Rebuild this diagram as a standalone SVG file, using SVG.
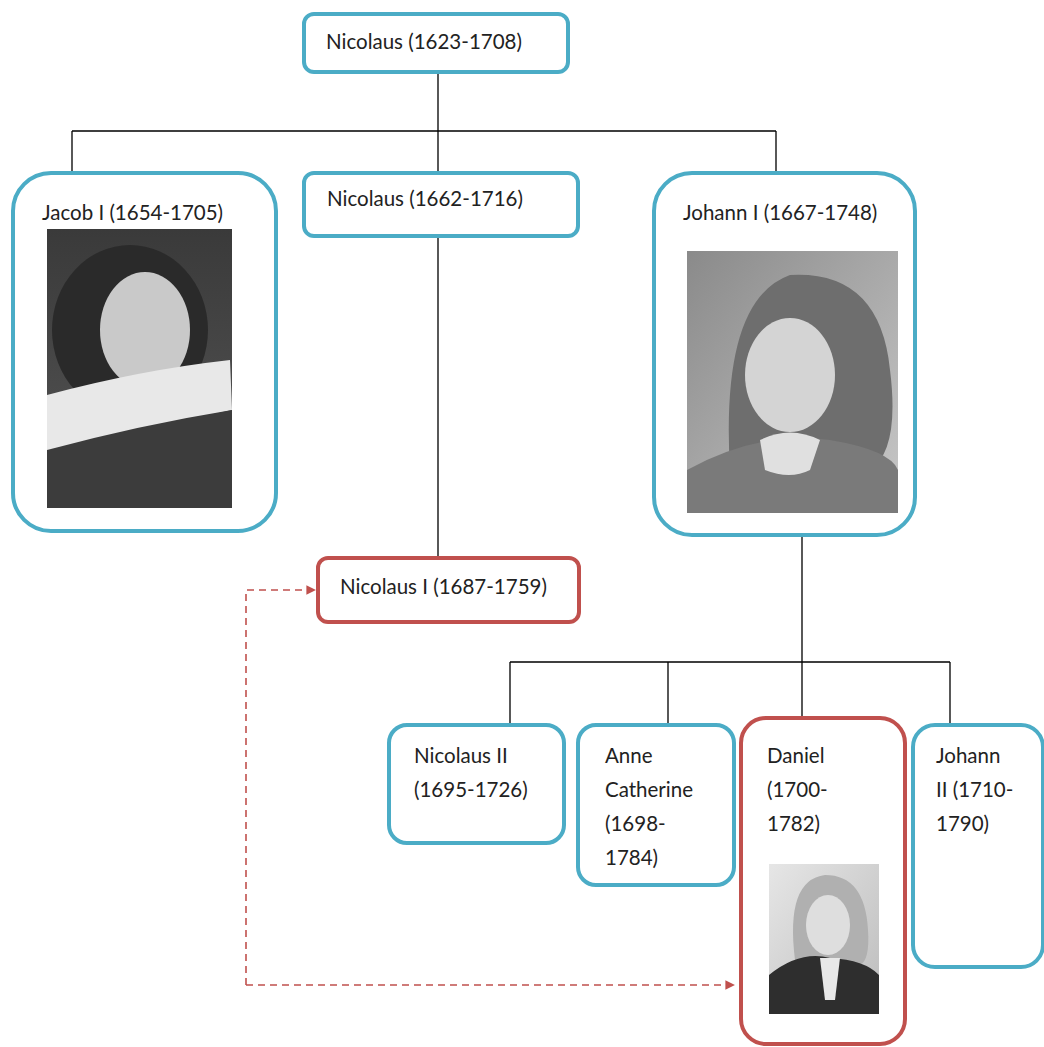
<svg xmlns="http://www.w3.org/2000/svg" width="1044" height="1047" viewBox="0 0 1044 1047">
<style>
.t{font-family:Lato,"Liberation Sans",sans-serif;font-size:20.5px;fill:#222}
.b{fill:#fff;stroke:#4BACC6;stroke-width:4}
.r{fill:#fff;stroke:#C0504D;stroke-width:4}
.c{fill:none;stroke:#000;stroke-width:1.3}
.d{fill:none;stroke:#C0504D;stroke-width:1.6;stroke-dasharray:7 5}
</style>
<defs>
<marker id="ah" viewBox="0 0 10 10" refX="9" refY="5" markerWidth="6" markerHeight="6" orient="auto" markerUnits="strokeWidth">
<path d="M0,0 L10,5 L0,10 z" fill="#C0504D"/>
</marker>
<linearGradient id="g1" x1="0" y1="0" x2="0" y2="1"><stop offset="0" stop-color="#3a3a3a"/><stop offset="1" stop-color="#555"/></linearGradient>
<linearGradient id="g2" x1="0" y1="0" x2="1" y2="1"><stop offset="0" stop-color="#8a8a8a"/><stop offset="1" stop-color="#c8c8c8"/></linearGradient>
<linearGradient id="g3" x1="0" y1="0" x2="1" y2="1"><stop offset="0" stop-color="#e6e6e6"/><stop offset="1" stop-color="#bcbcbc"/></linearGradient>
</defs>
<g id="connectors">
<path class="c" d="M438,72 V172 M72,131 H776 M72,131 V173 M776,131 V173 M438,236 V558"/>
<path class="c" d="M802,535 V718 M510,662 H950 M510,662 V725 M668,662 V725 M950,662 V725"/>
<path class="d" d="M246,985 V590 H315" marker-end="url(#ah)"/>
<path class="d" d="M246,985 H734" marker-end="url(#ah)"/>
</g>
<g id="n-nicolaus-1623">
<rect class="b" x="304" y="14" width="264" height="58" rx="10"/>
<text class="t" x="326" y="49">Nicolaus (1623-1708)</text>
</g>
<g id="n-jacob">
<rect class="b" x="13" y="173" width="263" height="358" rx="38"/>
<text class="t" x="42" y="220">Jacob I (1654-1705)</text>
<g id="p-jacob">
<rect x="47" y="229" width="185" height="279" fill="url(#g1)"/>
<ellipse cx="130" cy="330" rx="78" ry="85" fill="#2a2a2a"/>
<ellipse cx="145" cy="330" rx="45" ry="58" fill="#c9c9c9"/>
<path d="M47,395 Q140,370 230,360 L232,410 Q140,430 60,450 L47,450 z" fill="#e8e8e8"/>
<path d="M47,450 Q140,425 232,410 L232,508 L47,508 z" fill="#3c3c3c"/>
</g>
</g>
<g id="n-nicolaus-1662">
<rect class="b" x="304" y="173" width="274" height="63" rx="10"/>
<text class="t" x="327" y="206">Nicolaus (1662-1716)</text>
</g>
<g id="n-johann-i">
<rect class="b" x="654" y="173" width="261" height="362" rx="38"/>
<text class="t" x="683" y="220">Johann I (1667-1748)</text>
<g id="p-johann">
<rect x="687" y="251" width="211" height="262" fill="url(#g2)"/>
<path d="M730,470 Q720,300 790,275 Q880,270 890,370 Q900,450 870,470 z" fill="#6e6e6e"/>
<ellipse cx="790" cy="375" rx="45" ry="57" fill="#d4d4d4"/>
<path d="M687,470 Q760,430 830,440 Q890,450 898,470 L898,513 L687,513 z" fill="#7a7a7a"/>
<path d="M760,440 Q790,425 820,440 L810,470 Q790,480 765,470 z" fill="#e0e0e0"/>
</g>
</g>
<g id="n-nicolaus-i">
<rect class="r" x="318" y="558" width="261" height="64" rx="10"/>
<text class="t" x="340" y="594">Nicolaus I (1687-1759)</text>
</g>
<g id="n-nicolaus-ii">
<rect class="b" x="389" y="725" width="175" height="118" rx="18"/>
<text class="t" x="414" y="763">Nicolaus II</text>
<text class="t" x="414" y="797">(1695-1726)</text>
</g>
<g id="n-anne">
<rect class="b" x="578" y="725" width="156" height="160" rx="18"/>
<text class="t" x="605" y="763">Anne</text>
<text class="t" x="605" y="797">Catherine</text>
<text class="t" x="605" y="831">(1698-</text>
<text class="t" x="605" y="865">1784)</text>
</g>
<g id="n-daniel">
<rect class="r" x="741" y="718" width="164" height="326" rx="25"/>
<text class="t" x="767" y="763">Daniel</text>
<text class="t" x="767" y="797">(1700-</text>
<text class="t" x="767" y="831">1782)</text>
<g id="p-daniel">
<rect x="769" y="864" width="110" height="150" fill="url(#g3)"/>
<path d="M795,960 Q785,880 825,875 Q865,875 868,930 Q870,960 860,965 z" fill="#b0b0b0"/>
<ellipse cx="828" cy="925" rx="22" ry="30" fill="#dedede"/>
<path d="M769,975 Q800,950 830,958 Q865,960 879,975 L879,1014 L769,1014 z" fill="#2e2e2e"/>
<path d="M820,958 L840,958 L835,1000 L825,1000 z" fill="#e8e8e8"/>
</g>
</g>
<g id="n-johann-ii">
<rect class="b" x="913" y="725" width="130" height="242" rx="22"/>
<text class="t" x="936" y="763">Johann</text>
<text class="t" x="936" y="797">II (1710-</text>
<text class="t" x="936" y="831">1790)</text>
</g>
</svg>
